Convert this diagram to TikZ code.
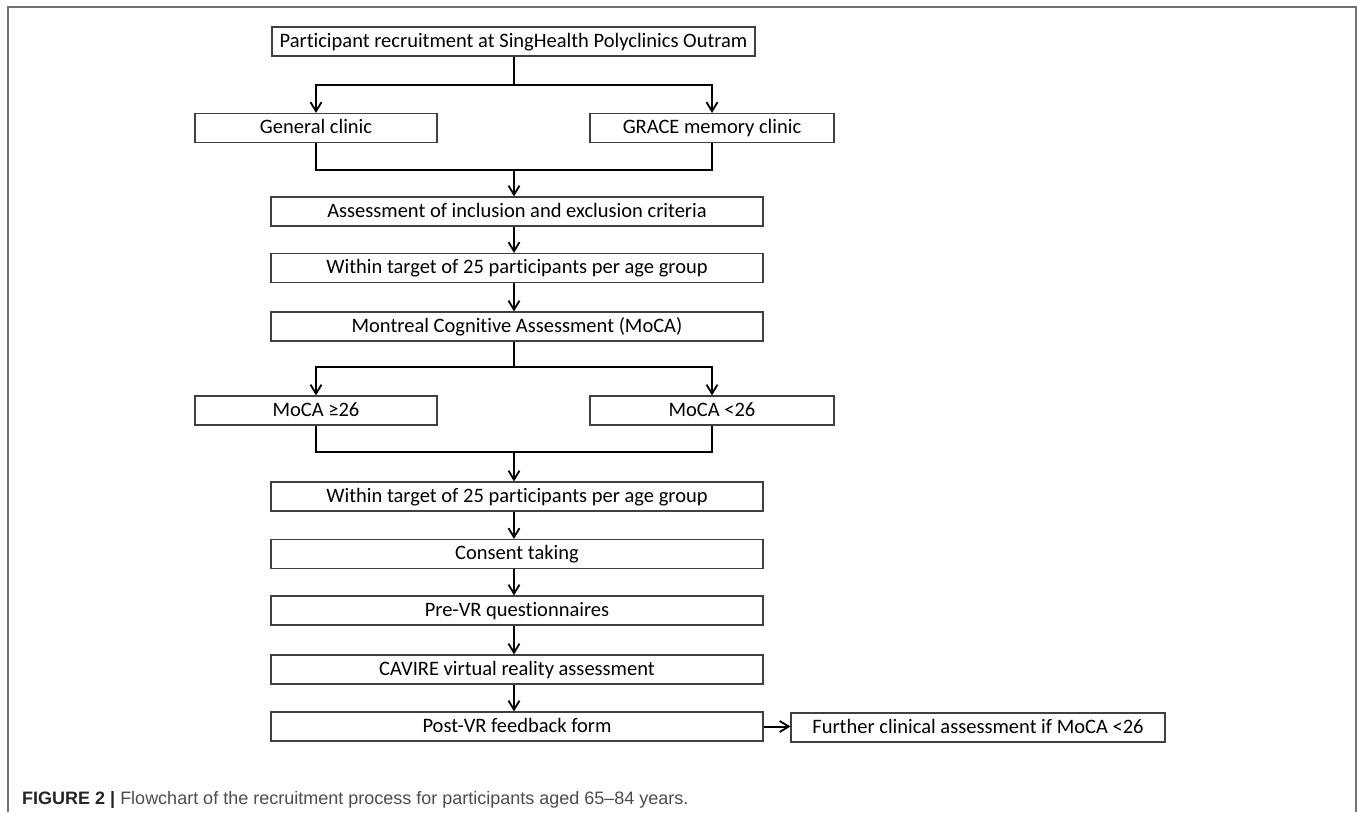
\documentclass[tikz,border=0pt]{standalone}
\usepackage{fontspec}
\setmainfont{Carlito}[RawFeature=-liga]
\newfontfamily\capfont{Liberation Sans}
\usetikzlibrary{arrows.meta}

\definecolor{framegray}{gray}{0.45}
\definecolor{capgray}{gray}{0.3}

\tikzset{
  box/.style={draw=black!75, line width=1.2pt, inner sep=0pt, minimum height=29pt,
    text height=15pt, text depth=4pt, font=\fontsize{20.5}{24}\selectfont},
  flow/.style={line width=2pt, -{Straight Barb[length=9pt,width=11pt,line width=1.8pt]}},
  flowline/.style={line width=2pt}
}

\begin{document}
\begin{tikzpicture}[x=1pt,y=-1pt]
\useasboundingbox (0,0) rectangle (1357,812);
\draw[framegray, line width=2pt] (8,812) -- (8,7) -- (1356,7) -- (1356,812);

\node[box, minimum width=483pt] (recruit) at (513.5,41.5) {Participant recruitment at SingHealth Polyclinics Outram};
\node[box, minimum width=242pt] (general) at (316,128) {General clinic};
\node[box, minimum width=244pt] (grace) at (712,128) {GRACE memory clinic};
\node[box, minimum width=492pt] (incl) at (517,211.5) {Assessment of inclusion and exclusion criteria};
\node[box, minimum width=492pt] (target1) at (517,268) {Within target of 25 participants per age group};
\node[box, minimum width=492pt] (moca) at (517,326.5) {Montreal Cognitive Assessment (MoCA)};
\node[box, minimum width=242pt] (mocahi) at (316,410.5) {MoCA ≥26};
\node[box, minimum width=244pt] (mocalo) at (712,410.5) {MoCA <26};
\node[box, minimum width=492pt] (target2) at (517,496.5) {Within target of 25 participants per age group};
\node[box, minimum width=492pt] (consent) at (517,554) {Consent taking};
\node[box, minimum width=492pt] (prevr) at (517,610.5) {Pre-VR questionnaires};
\node[box, minimum width=492pt] (cavire) at (517,669.5) {CAVIRE virtual reality assessment};
\node[box, minimum width=492pt] (postvr) at (517,726.5) {Post-VR feedback form};
\node[box, minimum width=374pt] (further) at (978,727.5) {Further clinical assessment if MoCA <26};

\coordinate (split1) at (514,85);
\coordinate (join1) at (514,170);
\coordinate (split2) at (514,367);
\coordinate (join2) at (514,452);

\draw[flowline] (recruit.south -| split1) -- (split1);
\draw[flow] (split1) -| (general.north);
\draw[flow] (split1) -| (grace.north);
\draw[flowline] (general.south) |- (join1) -| (grace.south);
\draw[flow] (join1) -- (join1 |- incl.north);
\draw[flow] (incl.south -| join1) -- (target1.north -| join1);
\draw[flow] (target1.south -| join1) -- (moca.north -| join1);

\draw[flowline] (moca.south -| split2) -- (split2);
\draw[flow] (split2) -| (mocahi.north);
\draw[flow] (split2) -| (mocalo.north);
\draw[flowline] (mocahi.south) |- (join2) -| (mocalo.south);
\draw[flow] (join2) -- (join2 |- target2.north);
\draw[flow] (target2.south -| join2) -- (consent.north -| join2);
\draw[flow] (consent.south -| join2) -- (prevr.north -| join2);
\draw[flow] (prevr.south -| join2) -- (cavire.north -| join2);
\draw[flow] (cavire.south -| join2) -- (postvr.north -| join2);
\draw[flow] (postvr.east) -- (further.west |- postvr.east);

\node[anchor=base west, inner sep=0pt, font=\capfont\fontsize{18}{21}\selectfont] (caption) at (22,804)
  {\textcolor{black!85}{\bfseries FIGURE 2 |} \textcolor{capgray}{Flowchart of the recruitment process for participants aged 65–84 years.}};
\end{tikzpicture}
\end{document}
